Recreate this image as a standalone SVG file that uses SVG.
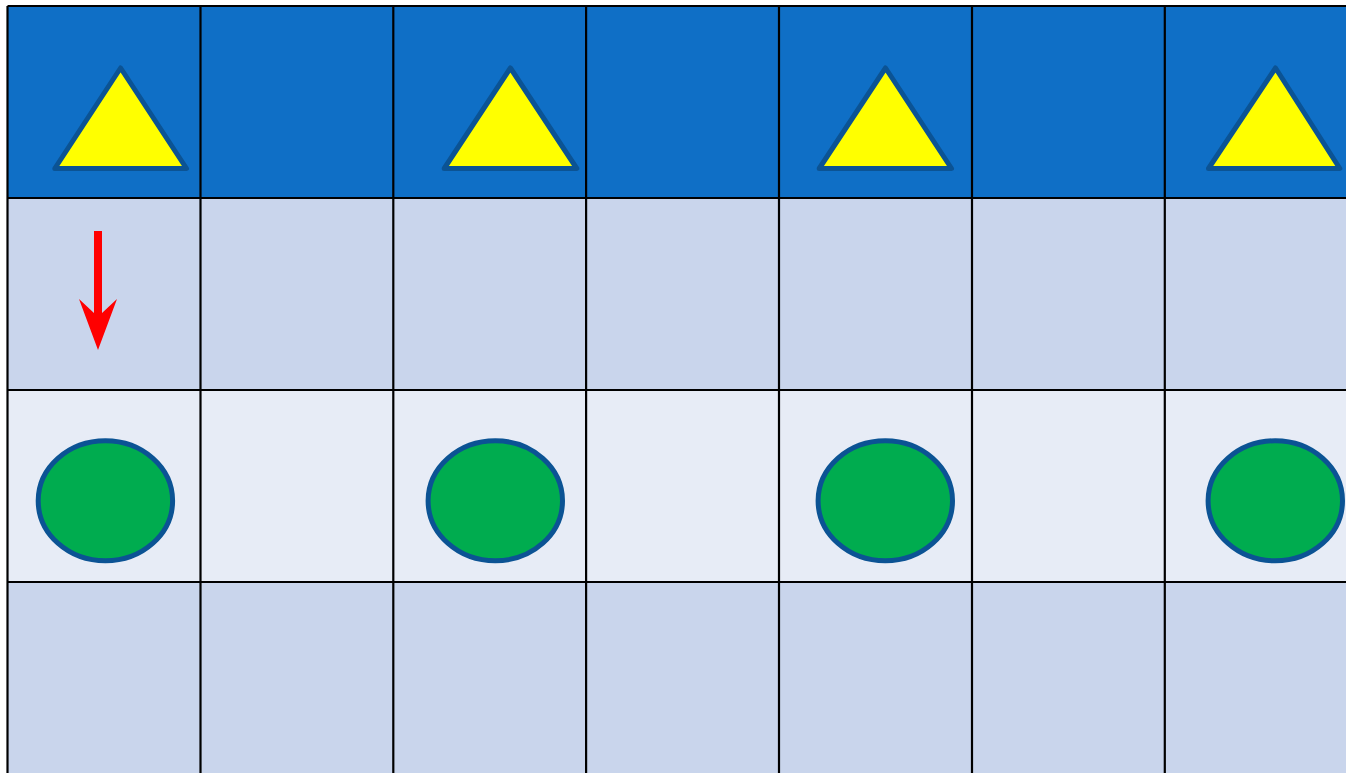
<svg xmlns="http://www.w3.org/2000/svg" width="1346" height="773" viewBox="0 0 1346 773">
<style>
.top{fill:#0f6fc6}
.mid{fill:#c9d5ec}
.light{fill:#e7ecf6}
.grid{stroke:#000;stroke-width:2.2;fill:none}
.tri{fill:#ffff00;stroke:#0b5394;stroke-width:5;stroke-linejoin:round}
.dot{fill:#00ac4f;stroke:#0b5394;stroke-width:5}
.arrow{fill:#ff0000}
</style>
<rect width="1346" height="773" fill="#ffffff"/>
<g id="rows">
<rect class="top" x="7.5" y="6" width="1360" height="192"/>
<rect class="mid" x="7.5" y="198" width="1360" height="192"/>
<rect class="light" x="7.5" y="390" width="1360" height="192"/>
<rect class="mid" x="7.5" y="582" width="1360" height="192"/>
</g>
<g id="grid" class="grid">
<line x1="7.5" y1="6" x2="1346" y2="6"/>
<line x1="7.5" y1="198" x2="1346" y2="198"/>
<line x1="7.5" y1="390" x2="1346" y2="390"/>
<line x1="7.5" y1="582" x2="1346" y2="582"/>
<line x1="7.5" y1="6" x2="7.5" y2="773"/>
<line x1="200.5" y1="6" x2="200.5" y2="773"/>
<line x1="393.3" y1="6" x2="393.3" y2="773"/>
<line x1="586.1" y1="6" x2="586.1" y2="773"/>
<line x1="779" y1="6" x2="779" y2="773"/>
<line x1="972" y1="6" x2="972" y2="773"/>
<line x1="1164.8" y1="6" x2="1164.8" y2="773"/>
</g>
<g id="triangle1"><polygon class="tri" points="120.6,68 186.5,168.5 54.8,168.5"/></g>
<g id="triangle2"><polygon class="tri" points="510.4,68 576.8,168.5 444.2,168.5"/></g>
<g id="triangle3"><polygon class="tri" points="885.5,68 951.5,168.5 819.2,168.5"/></g>
<g id="triangle4"><polygon class="tri" points="1275.5,68 1339.8,168.5 1208.5,168.5"/></g>
<g id="connectors">
<g id="arrow1">
<polygon class="arrow" points="94,231 102,231 102,313 117,299 98,350 79,299 94,313"/>
</g>
</g>
<g id="circle1"><ellipse class="dot" cx="105.4" cy="500.8" rx="67.2" ry="60"/></g>
<g id="circle2"><ellipse class="dot" cx="495.3" cy="500.8" rx="67.2" ry="60"/></g>
<g id="circle3"><ellipse class="dot" cx="885.3" cy="500.8" rx="67.2" ry="60"/></g>
<g id="circle4"><ellipse class="dot" cx="1275.3" cy="500.8" rx="67.2" ry="60"/></g>
</svg>
